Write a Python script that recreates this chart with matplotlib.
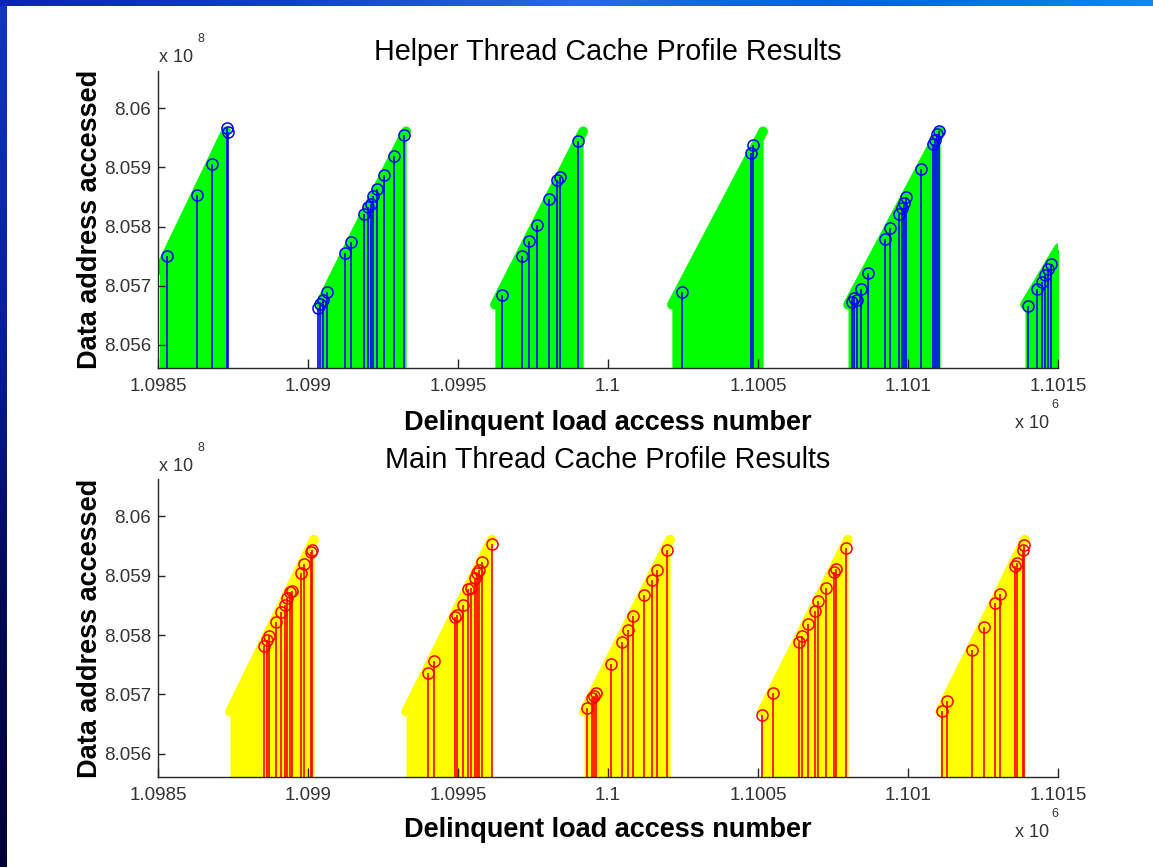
import numpy as np
import matplotlib
matplotlib.use('Agg')
import matplotlib.pyplot as plt

plt.rcParams['font.family'] = ['Liberation Sans', 'DejaVu Sans']

# sawtooth sweeps (start/end access number, start/end address)
helper_seg_x0 = [1098505, 1099040, 1099623, 1100213, 1100800, 1101390]
helper_seg_x1 = [1098727, 1099327, 1099917, 1100517, 1101107, 1101503]
helper_seg_y0 = [805727000, 805668000, 805668000, 805668000, 805668000, 805668000]
helper_seg_y1 = [805961000, 805961000, 805961000, 805961000, 805961000, 805764000]

main_seg_x0 = [1098740, 1099327, 1099920, 1100513, 1101107]
main_seg_x1 = [1099020, 1099613, 1100207, 1100800, 1101390]
main_seg_y0 = [805671000, 805671000, 805671000, 805671000, 805671000]
main_seg_y1 = [805961000, 805961000, 805961000, 805961000, 805961000]

# delinquent loads (stems)
helper_x = [1098529, 1098629, 1098681, 1098730, 1098734,
            1099034, 1099040, 1099049, 1099062, 1099123, 1099143, 1099188, 1099199,
            1099209, 1099218, 1099229, 1099253, 1099288, 1099320,
            1099646, 1099712, 1099738, 1099764, 1099803, 1099831, 1099840, 1099901,
            1100248, 1100477, 1100484,
            1100812, 1100820, 1100829, 1100843, 1100868, 1100924, 1100940, 1100970,
            1100979, 1100987, 1100993, 1101042, 1101082, 1101090, 1101098, 1101104,
            1101401, 1101431, 1101446, 1101457, 1101466, 1101476]
helper_y = [805751000, 805854000, 805906000, 805966000, 805960000,
            805662000, 805669000, 805676000, 805690000, 805755000, 805774000, 805822000, 805833000,
            805839000, 805851000, 805864000, 805888000, 805920000, 805954000,
            805685000, 805751000, 805776000, 805802000, 805846000, 805878000, 805884000, 805945000,
            805690000, 805924000, 805938000,
            805673000, 805679000, 805676000, 805695000, 805722000, 805779000, 805798000, 805822000,
            805832000, 805840000, 805850000, 805897000, 805939000, 805947000, 805956000, 805962000,
            805666000, 805695000, 805707000, 805719000, 805728000, 805736000]

main_x = [1098854, 1098862, 1098870, 1098892, 1098910, 1098923, 1098931, 1098940, 1098948,
          1098977, 1098987, 1099010, 1099014,
          1099401, 1099420, 1099490, 1099496, 1099516, 1099534, 1099542, 1099557, 1099564,
          1099571, 1099581, 1099612,
          1099931, 1099946, 1099953, 1099959, 1100010, 1100046, 1100066, 1100084, 1100121,
          1100146, 1100162, 1100198,
          1100512, 1100551, 1100637, 1100646, 1100666, 1100690, 1100701, 1100727, 1100753,
          1100760, 1100792,
          1101114, 1101129, 1101214, 1101253, 1101290, 1101307, 1101357, 1101362, 1101384, 1101387]
main_y = [805781000, 805792000, 805799000, 805822000, 805839000, 805851000, 805863000, 805873000, 805875000,
          805905000, 805919000, 805940000, 805944000,
          805737000, 805756000, 805830000, 805834000, 805851000, 805877000, 805879000, 805897000, 805904000,
          805909000, 805923000, 805954000,
          805677000, 805694000, 805698000, 805703000, 805752000, 805789000, 805809000, 805833000, 805868000,
          805893000, 805909000, 805944000,
          805666000, 805702000, 805789000, 805798000, 805819000, 805840000, 805857000, 805879000, 805907000,
          805911000, 805946000,
          805673000, 805689000, 805775000, 805813000, 805854000, 805869000, 805917000, 805922000, 805944000, 805951000]

x_ticks = [1098500, 1099000, 1099500, 1100000, 1100500, 1101000, 1101500]
y_ticks = [805600000, 805700000, 805800000, 805900000, 806000000]
x_lim = (1098500, 1101500)
y_lim = (805561000, 806063000)

W, H = 1153, 867
fig = plt.figure(figsize=(W / 100, H / 100), dpi=100)
fig.patch.set_facecolor('white')

# slide frame: blue bars on the left and top
bar_l = fig.add_axes([0, 0, 7 / W, 1])
grad_v = np.linspace(0, 1, 256)[:, None]
bar_l.imshow(grad_v, aspect='auto', cmap=matplotlib.colors.LinearSegmentedColormap.from_list(
    'lb', ['#1236c4', '#0a20a8', '#020a5a', '#000038']), extent=[0, 1, 0, 1], origin='upper')
bar_l.axis('off')
bar_t = fig.add_axes([0, 1 - 6 / H, 1, 6 / H])
grad_h = np.linspace(0, 1, 256)[None, :]
bar_t.imshow(grad_h, aspect='auto', cmap=matplotlib.colors.LinearSegmentedColormap.from_list(
    'tb', ['#0a24bc', '#1040d0', '#2a6ae0', '#0060e8', '#1488e6']), extent=[0, 1, 0, 1])
bar_t.axis('off')


def draw_panel(ax, seg_x0, seg_x1, seg_y0, seg_y1, xs, ys, fill_col, stem_col, title):
    for x0, x1, y0, y1 in zip(seg_x0, seg_x1, seg_y0, seg_y1):
        ax.fill_between([x0, x1], [y0, y1], y_lim[0], color=fill_col, lw=0, zorder=1)
        ax.plot([x0, x1], [y0, y1], color=fill_col, lw=7, solid_capstyle='round', zorder=1)
    ax.vlines(xs, y_lim[0], ys, color=stem_col, lw=1.2, zorder=2)
    ax.plot(xs, ys, 'o', mfc='none', mec=stem_col, ms=8, mew=1.1, zorder=3)

    ax.set_xlim(*x_lim)
    ax.set_ylim(*y_lim)
    ax.set_xticks(x_ticks)
    ax.set_yticks(y_ticks)
    ax.set_xticklabels(['%g' % (v / 1e6) for v in x_ticks])
    ax.set_yticklabels(['%g' % (v / 1e8) for v in y_ticks])
    for s in ['top', 'right']:
        ax.spines[s].set_visible(False)
    for s in ['left', 'bottom']:
        ax.spines[s].set_color('#262626')
        ax.spines[s].set_linewidth(1.0)
        ax.spines[s].set_zorder(4)
    ax.tick_params(axis='both', direction='in', colors='#262626', labelcolor='#333333',
                   labelsize=13.5, width=1.0)
    ax.tick_params(axis='x', length=6.5, pad=7)
    ax.tick_params(axis='y', length=5, pad=5)

    ax.set_title(title, fontsize=20.7, pad=8)
    ax.set_xlabel('Delinquent load access number', fontsize=19.5, fontweight='bold', va='center')
    ax.set_ylabel('Data address accessed', fontsize=19.5, fontweight='bold', va='center')


ax1 = fig.add_axes([158 / W, 1 - 368 / H, 900 / W, 297 / H])
ax2 = fig.add_axes([158 / W, 1 - 777 / H, 900 / W, 298 / H])

draw_panel(ax1, helper_seg_x0, helper_seg_x1, helper_seg_y0, helper_seg_y1,
           helper_x, helper_y, '#00ff00', '#0000ff', 'Helper Thread Cache Profile Results')
draw_panel(ax2, main_seg_x0, main_seg_x1, main_seg_y0, main_seg_y1,
           main_x, main_y, '#ffff00', '#ff0000', 'Main Thread Cache Profile Results')

ax1.xaxis.set_label_coords(0.5, -(423 - 368) / 297)
ax2.xaxis.set_label_coords(0.5, -(830 - 777) / 298)
ax1.yaxis.set_label_coords(-(158 - 90) / 900, 0.5)
ax2.yaxis.set_label_coords(-(158 - 90) / 900, 0.5)

# MATLAB style exponent labels
for top in [0, 409]:
    fig.text(159 / W, 1 - (62 + top) / H, 'x 10', fontsize=13, color='#333333', va='baseline')
    fig.text(197 / W, 1 - (42 + top) / H, '8', fontsize=9, color='#333333', va='baseline')
    fig.text(1015 / W, 1 - (428 + top) / H, 'x 10', fontsize=13, color='#333333', va='baseline')
    fig.text(1051 / W, 1 - (408 + top) / H, '6', fontsize=9, color='#333333', va='baseline')

fig.savefig('out.png', dpi=100)
